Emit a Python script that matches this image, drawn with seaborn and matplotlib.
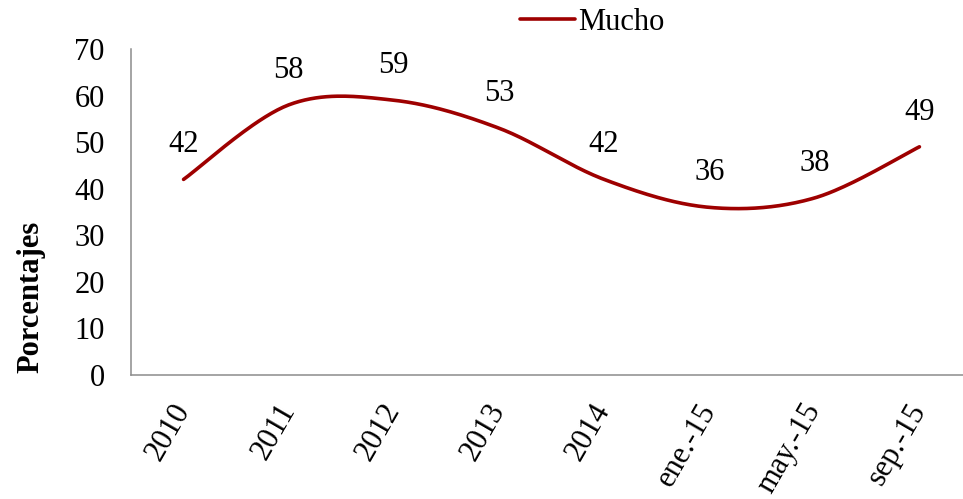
import numpy as np
import pandas as pd
import matplotlib
matplotlib.use("Agg")
import matplotlib.pyplot as plt
import seaborn as sns

#### Données
categorias = ["2010", "2011", "2012", "2013", "2014", "ene.-15", "may.-15", "sep.-15"]
mucho = [42, 58, 59, 53, 42, 36, 38, 49]
serie = "Mucho"
color_linea = "#9E0000"


def curva_suave(y, n=40):
    """
    Courbe lissée type Excel (Bezier cubique, tension 1/6)
    à partir des points (indice, valeur)
    """
    pts = np.column_stack([np.arange(len(y)), np.asarray(y, dtype=float)])
    xs, ys = [], []
    t = np.linspace(0, 1, n)[:, None]
    for i in range(len(pts) - 1):
        p0 = pts[i]
        p3 = pts[i + 1]
        prev = pts[i - 1] if i > 0 else pts[i]
        nxt = pts[i + 2] if i + 2 < len(pts) else pts[i + 1]
        p1 = p0 + (p3 - prev) / 6
        p2 = p3 - (nxt - p0) / 6
        b = ((1 - t) ** 3) * p0 + 3 * ((1 - t) ** 2) * t * p1 + 3 * (1 - t) * t ** 2 * p2 + t ** 3 * p3
        xs.extend(b[:, 0])
        ys.extend(b[:, 1])
    return pd.DataFrame({"x": xs, "y": ys})


sns.set_style("white")
plt.rcParams["font.family"] = ["Liberation Serif", "DejaVu Serif"]
plt.rcParams["text.color"] = "black"
plt.rcParams["xtick.color"] = "black"
plt.rcParams["ytick.color"] = "black"
plt.rcParams["axes.labelcolor"] = "black"

fig = plt.figure(figsize=(9.63, 4.99), dpi=100)
ax = fig.add_axes([131 / 963, 124 / 499, 841 / 963, 326 / 499])

df = curva_suave(mucho)
sns.lineplot(data=df, x="x", y="y", sort=False, estimator=None, ax=ax,
             color=color_linea, linewidth=2.6, label=serie, legend=False)

# Étiquettes de données
for i, v in enumerate(mucho):
    ax.annotate(str(v), (i, v), xytext=(0, 25), textcoords="offset points",
                ha="center", va="center", fontsize=22)

ax.set_xlim(-0.5, len(categorias) - 0.5)
ax.set_ylim(0, 70)
ax.set_yticks(range(0, 71, 10))
ax.set_xticks(range(len(categorias)))
ax.set_xticklabels(categorias, rotation=60, ha="right", va="center",
                   rotation_mode="anchor", fontsize=22)
ax.tick_params(axis="y", labelsize=22, length=0, pad=19)
ax.tick_params(axis="x", length=0, pad=22)

for s in ["top", "right"]:
    ax.spines[s].set_visible(False)
for s in ["left", "bottom"]:
    ax.spines[s].set_color("#8C8C8C")
    ax.spines[s].set_linewidth(1.1)

ax.set_xlabel("")
ax.set_ylabel("Porcentajes", fontsize=22, fontweight="bold")
ax.yaxis.set_label_coords(-0.102, 0.24)

handles, labels = ax.get_legend_handles_labels()
fig.legend(handles, labels, loc="center", bbox_to_anchor=(592 / 963, 1 - 22 / 499),
           frameon=False, fontsize=22, handlelength=1.8, handletextpad=0.1)

fig.savefig("out.png", dpi=100)
